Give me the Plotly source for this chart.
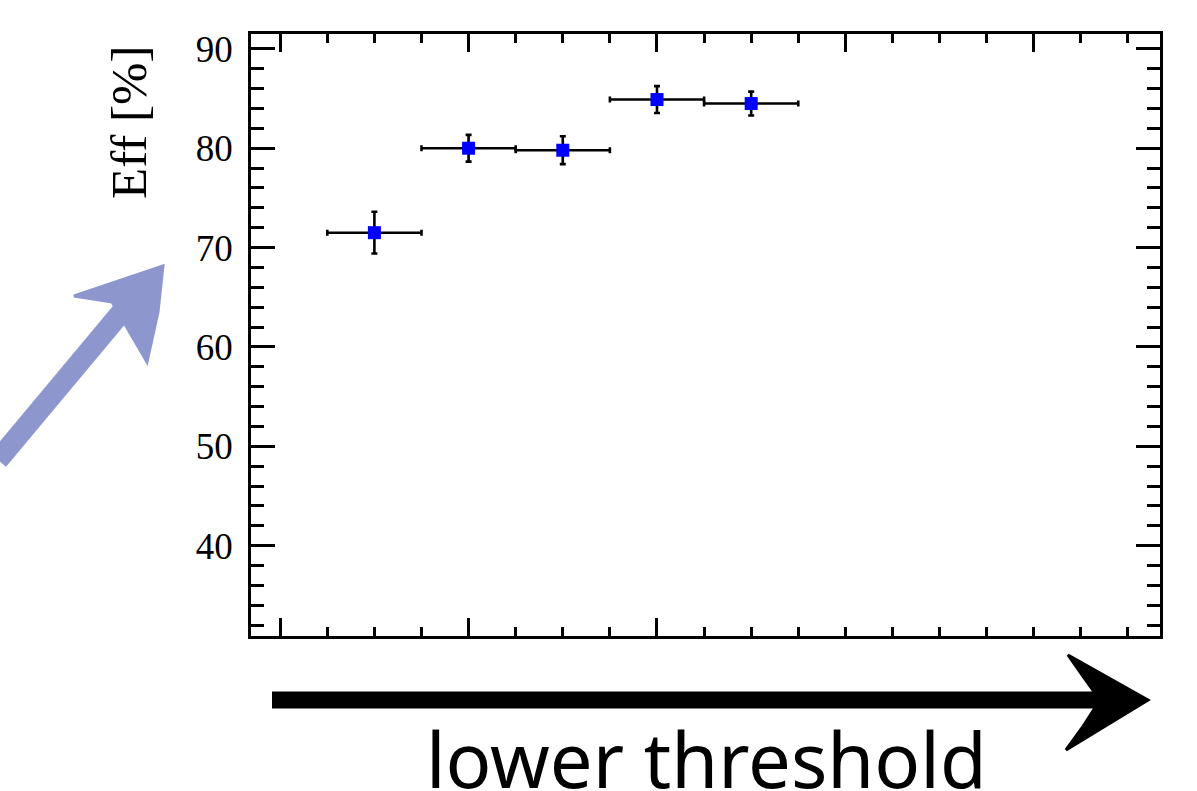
import plotly.graph_objects as go

# Data
x_vals = [1, 2, 3, 4, 5]
eff = [71.5, 80.0, 79.8, 84.9, 84.5]
eff_err = [2.1, 1.35, 1.4, 1.35, 1.2]
x_err = [0.5, 0.5, 0.5, 0.5, 0.5]
bottom_major = [0, 2, 4]
y_title = "Eff [%]"
x_note = "lower threshold"

W, H = 1197, 791
L, R, T, B = 251, 1160, 34, 636

def px(xp):
    return (xp - L) / (R - L)

def py(yp):
    return (B - yp) / (B - T)

fig = go.Figure()
fig.add_trace(go.Scatter(
    x=x_vals, y=eff, mode="markers",
    marker=dict(symbol="square", size=13, color="#0000ff", line=dict(width=0)),
    error_y=dict(type="data", array=eff_err, color="black", thickness=2.6, width=3),
    error_x=dict(type="data", array=x_err, color="black", thickness=2.6, width=3),
    showlegend=False, hoverinfo="x+y",
))
# invisible copy to anchor the top axis
fig.add_trace(go.Scatter(x=x_vals, y=eff, xaxis="x2", mode="markers",
                         marker=dict(opacity=0), showlegend=False, hoverinfo="skip"))

XR = [-0.31, 9.34]
line_style = dict(showgrid=False, zeroline=False, showline=True, linecolor="black",
                  linewidth=2.5, ticks="inside", tickcolor="black", tickwidth=2.5)

fig.update_layout(
    xaxis=dict(range=XR, tickmode="array", tickvals=bottom_major, ticklen=18,
               showticklabels=False, mirror=False,
               minor=dict(tickmode="linear", dtick=0.5, tick0=0, ticklen=9, ticks="inside",
                          tickcolor="black", tickwidth=2.5),
               **line_style),
    xaxis2=dict(range=XR, overlaying="x", side="top", anchor="y", tick0=0, dtick=2,
                ticklen=18, showticklabels=False,
                minor=dict(dtick=0.5, tick0=0, ticklen=9, ticks="inside",
                           tickcolor="black", tickwidth=2.5),
                **line_style),
    yaxis=dict(range=[30.9, 91.5], tick0=0, dtick=10, ticklen=24, mirror="ticks",
               tickfont=dict(family="Liberation Serif", size=37, color="black"),
               ticklabelstandoff=8,
               minor=dict(dtick=2, tick0=0, ticklen=13, ticks="inside", tickcolor="black",
                          tickwidth=2.5),
               **line_style),
)

shapes = []
# blue sketched arrow
blue = "#8e96ce"
shapes.append(dict(type="line", xref="paper", yref="paper",
                   x0=px(-2), y0=py(460), x1=px(135), y1=py(296),
                   line=dict(color=blue, width=21)))
shapes.append(dict(type="path", xref="paper", yref="paper",
                   path="M {} {} L {} {} L {} {} L {} {} L {} {} Z".format(
                       px(163), py(266), px(74), py(296), px(112), py(302),
                       px(147), py(362), px(158), py(312)),
                   fillcolor=blue, line=dict(color=blue, width=3)))
# black sketched arrow
shapes.append(dict(type="line", xref="paper", yref="paper",
                   x0=px(272), y0=py(700), x1=px(1120), y1=py(700),
                   line=dict(color="black", width=17)))
shapes.append(dict(type="path", xref="paper", yref="paper",
                   path="M {} {} L {} {} L {} {} L {} {} L {} {} L {} {} Z".format(
                       px(1148), py(700), px(1068), py(655), px(1082), py(675),
                       px(1100), py(700), px(1082), py(728), px(1066), py(750)),
                   fillcolor="black", line=dict(color="black", width=3)))

annotations = [
    dict(text=y_title, xref="paper", yref="paper", x=px(129), y=py(123),
         xanchor="center", yanchor="middle", textangle=-90, showarrow=False,
         font=dict(family="Liberation Serif", size=51, color="black")),
    dict(text=x_note, xref="paper", yref="paper", x=px(706), y=py(758),
         xanchor="center", yanchor="middle", showarrow=False,
         font=dict(family="Noto Sans", size=76, color="black")),
]

fig.update_layout(width=W, height=H, margin=dict(l=L, r=W - R, t=T, b=H - B),
                  plot_bgcolor="white", paper_bgcolor="white",
                  shapes=shapes, annotations=annotations)

fig.write_html("out.html", config={"displayModeBar": False},
               post_script="document.body.style.margin='0px';")
